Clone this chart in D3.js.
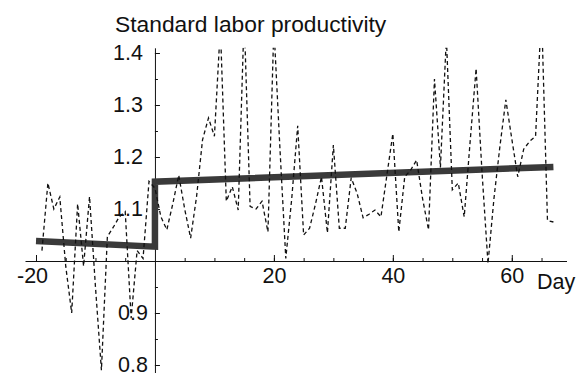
<!DOCTYPE html>
<html>
<head>
<meta charset="utf-8">
<script src="https://cdn.jsdelivr.net/npm/d3@7/dist/d3.min.js"></script>
<style>
    body { margin: 0; background: #fff; }
    text { font-family: "Liberation Sans", Arial, Helvetica, sans-serif; fill: #111; }
</style>
</head>
<body>
<svg id="chart" width="587" height="373"></svg>
<script>
// daily observations
const days = [
    -19, -18, -17, -16, -15, -14, -13, -12, -11, -10, -9, -8, -7, -6, -5, -4, -3, -2, -1,
    0, 1, 2, 3, 4, 5, 6, 7, 8, 9, 10, 11, 12, 13, 14, 15, 16, 17, 18, 19, 20,
    21, 22, 23, 24, 25, 26, 27, 28, 29, 30, 31, 32, 33, 34, 35, 36, 37, 38, 39, 40,
    41, 42, 43, 44, 45, 46, 47, 48, 49, 50, 51, 52, 53, 54, 55, 56, 57, 58, 59, 60,
    61, 62, 63, 64, 65, 66, 67
];
const productivity = [
    1.02, 1.15, 1.10, 1.123, 0.99, 0.90, 1.11, 0.99, 1.124, 0.95, 0.79, 1.047, 1.065, 1.085, 1.095, 0.89, 1.02, 1.005, 1.153,
    1.14, 1.085, 1.06, 1.11, 1.165, 1.10, 1.044, 1.124, 1.233, 1.275, 1.24, 1.45, 1.115, 1.143, 1.098, 1.47, 1.105, 1.10, 1.115, 1.056, 1.45,
    1.22, 1.005, 1.12, 1.26, 1.05, 1.063, 1.11, 1.162, 1.054, 1.223, 1.063, 1.063, 1.16, 1.13, 1.083, 1.09, 1.098, 1.085, 1.165, 1.245,
    1.056, 1.162, 1.175, 1.194, 1.12, 1.06, 1.35, 1.18, 1.43, 1.137, 1.15, 1.085, 1.23, 1.37, 1.17, 0.995, 1.12, 1.22, 1.31, 1.235,
    1.162, 1.215, 1.23, 1.24, 1.48, 1.078, 1.075
];

// fitted trend (before / after day 0)
const fitDays = [-20, 0, 0, 67];
const fitValues = [1.0385, 1.0275, 1.1525, 1.181];

const xTicks = [-20, 20, 40, 60];
const xMinorTicks = [-20, -15, -10, -5, 5, 10, 15, 20, 25, 30, 35, 40, 45, 50, 55, 60, 65];
const yTicks = [0.8, 0.9, 1.1, 1.2, 1.3, 1.4];
const yMinorTicks = [0.8, 0.85, 0.9, 0.95, 1.05, 1.1, 1.15, 1.2, 1.25, 1.3, 1.35, 1.4];

const title = 'Standard labor productivity';
const xLabel = 'Day';

const svg = d3.select('#chart');
const fontSize = 21.5;

const x = d3.scaleLinear().domain([-21.85, 69.2]).range([25, 566.5]);
const y = d3.scaleLinear().domain([0.775, 1.41]).range([378, 47.8]);

svg.append('defs')
    .append('clipPath')
    .attr('id', 'plot-clip')
    .append('rect')
    .attr('x', x.range()[0])
    .attr('y', y.range()[1])
    .attr('width', x.range()[1] - x.range()[0])
    .attr('height', y.range()[0] - y.range()[1]);

// x axis sits on y = 1
const xAxisG = svg.append('g').attr('transform', `translate(0,${y(1)})`);
xAxisG.append('g')
    .call(d3.axisBottom(x).tickValues(xMinorTicks).tickSizeInner(-3).tickSizeOuter(0).tickFormat(''))
    .call(g => g.select('.domain').remove());
xAxisG.append('g')
    .call(d3.axisBottom(x).tickValues(xTicks).tickSizeInner(-6).tickSizeOuter(0).tickPadding(7)
        .tickFormat(d => String(d)))   // plain hyphen, as in the original
    .call(g => g.selectAll('text')
        .style('font-size', `${fontSize}px`)
        .attr('dx', d => (d < 0 ? -4 : 0)));
xAxisG.selectAll('.domain').attr('stroke', '#111');
xAxisG.selectAll('.tick line').attr('stroke', '#111');

// y axis sits on day 0
const yAxisG = svg.append('g').attr('transform', `translate(${x(0)},0)`);
yAxisG.append('g')
    .call(d3.axisLeft(y).tickValues(yMinorTicks).tickSizeInner(-3).tickSizeOuter(0).tickFormat(''))
    .call(g => g.select('.domain').remove());
yAxisG.append('g')
    .call(d3.axisLeft(y).tickValues(yTicks).tickSizeInner(-5).tickSizeOuter(0).tickPadding(12).tickFormat(d3.format('.1f')))
    .call(g => g.selectAll('text')
        .style('font-size', `${fontSize}px`)
        .attr('dx', d => (d < 1 ? 5 : 0)));
yAxisG.selectAll('.domain').attr('stroke', '#111');
yAxisG.selectAll('.tick line').attr('stroke', '#111');

const plot = svg.append('g').attr('clip-path', 'url(#plot-clip)');

// trend line
const fitLine = d3.line()
    .x((d, i) => x(fitDays[i]))
    .y(d => y(d));
plot.append('path')
    .datum(fitValues)
    .attr('fill', 'none')
    .attr('stroke', '#3a3a3a')
    .attr('stroke-width', 6.5)
    .attr('stroke-linejoin', 'miter')
    .attr('d', fitLine);

// daily series, dashed
const dailyLine = d3.line()
    .x((d, i) => x(days[i]))
    .y(d => y(d));
plot.append('path')
    .datum(productivity)
    .attr('fill', 'none')
    .attr('stroke', '#111')
    .attr('stroke-width', 1.3)
    .attr('stroke-dasharray', '4,3')
    .attr('d', dailyLine);

svg.append('text')
    .attr('x', 115)
    .attr('y', 31.5)
    .style('font-size', '22.8px')
    .text(title);

svg.append('text')
    .attr('x', 537)
    .attr('y', 289)
    .style('font-size', `${fontSize}px`)
    .text(xLabel);
</script>
</body>
</html>
